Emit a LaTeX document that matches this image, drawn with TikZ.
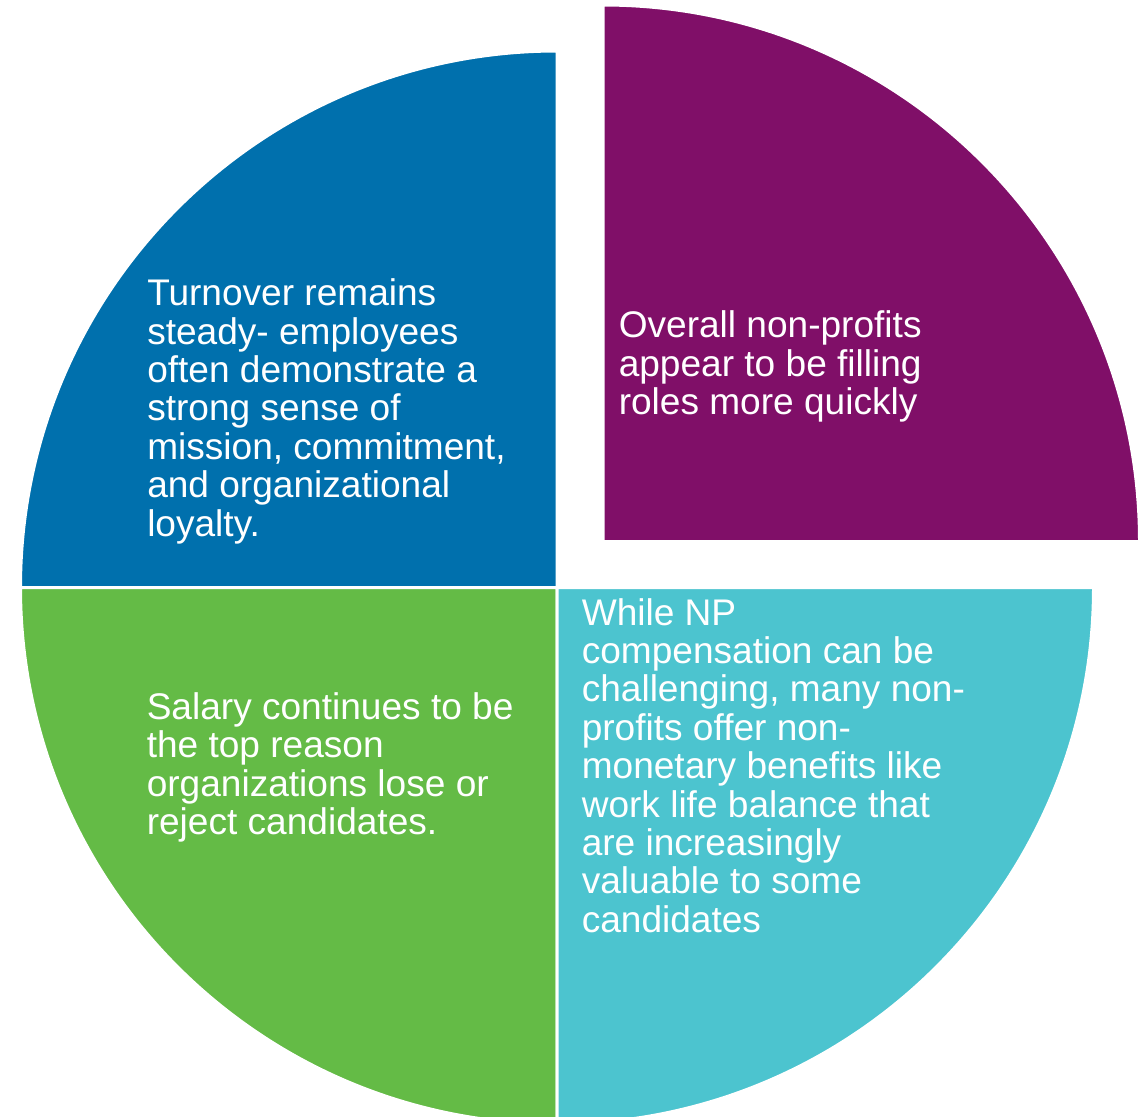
\documentclass[tikz,border=0pt]{standalone}
\usepackage{fontspec}
\setmainfont{Liberation Sans}
\usetikzlibrary{positioning}
\definecolor{npblue}{RGB}{0,112,173}
\definecolor{nppurple}{RGB}{128,15,104}
\definecolor{npgreen}{RGB}{100,187,70}
\definecolor{npteal}{RGB}{76,196,207}

\begin{document}
\begin{tikzpicture}[x=0.75pt,y=0.75pt,
		quarter/.style={draw=white,line width=2.25pt},
		quartertext/.style={anchor=base west,inner sep=0pt,align=left,text=white,
			font=\fontsize{27.8}{28.8}\selectfont}]
		\useasboundingbox (0,0) rectangle (1146,-1117);
		\clip (0,0) rectangle (1146,-1117);
		% the four quarters, centre (557,-587.5), radius 536.5
		\filldraw [quarter,fill=npblue] (557,-587.5) -- ++(-536.5,0) arc (180:90:536.5) -- cycle;
		\filldraw [quarter,fill=npgreen] (557,-587.5) -- ++(-536.5,0) arc (180:270:536.5) -- cycle;
		\filldraw [quarter,fill=npteal] (557,-587.5) -- ++(536.5,0) arc (0:-90:536.5) -- cycle;
		% pulled out quarter
		\filldraw [quarter,fill=nppurple] (603,-541.5) -- ++(536.5,0) arc (0:90:536.5) -- cycle;
		% texts (anchored on the baseline of their last line)
		\node [quartertext] (turnover) at (147,-536) {Turnover remains\\steady- employees\\often demonstrate a\\strong sense of\\mission, commitment,\\and organizational\\loyalty.};
		\node [quartertext] (overall) at (618.5,-414.5) {Overall non-profits\\appear to be filling\\roles more quickly};
		\node [quartertext] (salary) at (146.5,-834.5) {Salary continues to be\\the top reason\\organizations lose or\\reject candidates.};
		\node [quartertext] (whilenp) at (581.5,-932.2) {While NP\\compensation can be\\challenging, many non-\\profits offer non-\\monetary benefits like\\work life balance that\\are increasingly\\valuable to some\\candidates};
\end{tikzpicture}
\end{document}
